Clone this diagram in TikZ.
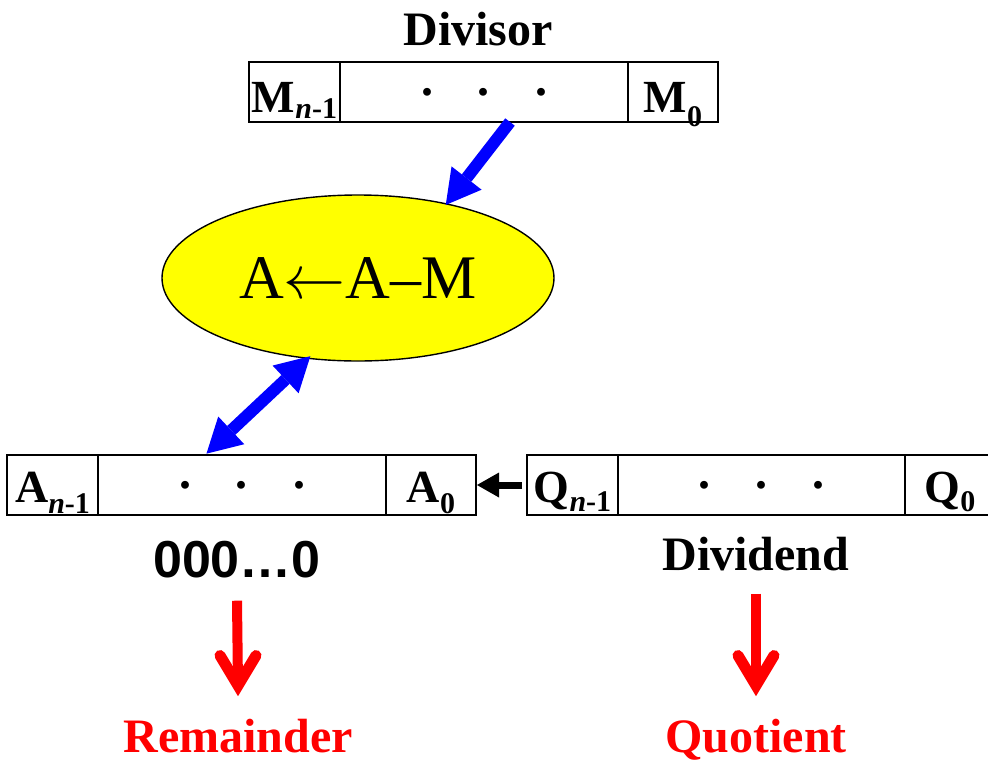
\documentclass[tikz,border=0pt]{standalone}
\usepackage{graphicx}
\usepackage{fontspec}
\setmainfont{Liberation Serif}
\newfontfamily\arialfont{Liberation Sans}
\usetikzlibrary{arrows.meta,shapes.geometric,calc}
\definecolor{bblue}{RGB}{0,0,255}
\definecolor{rred}{RGB}{255,0,0}
\definecolor{yel}{RGB}{255,255,0}
\newcommand\lbl[3]{\textbf{#1}\raisebox{-#3pt}{\fontsize{30}{30}\selectfont\bfseries #2}}
\newcommand\nmo{\textit{n}-1}
\newcommand\bigleftarrow{{\fontsize{10}{10}\selectfont\scalebox{6.2}{$\leftarrow$}}}
\tikzset{
  cell/.style={draw=black, line width=1.6pt, minimum height=60pt, inner sep=0pt, outer sep=0pt, anchor=center},
  lab/.style={font=\fontsize{46}{46}\selectfont\bfseries, anchor=base, inner sep=0pt},
  dotrow/.style={font=\fontsize{48}{48}\selectfont\bfseries},
  title/.style={font=\fontsize{48}{48}\selectfont\bfseries, anchor=base, inner sep=0pt},
  bluearr/.style={draw=bblue, line width=12pt, fill=bblue},
  redshaft/.style={draw=rred, line width=10pt},
  redhead/.style={draw=rred, line width=11pt, line cap=round, line join=miter},
}
\newcommand\dotz{\raisebox{-4pt}{.\hskip 45pt.\hskip 45pt.}}
\begin{document}
\begin{tikzpicture}[x=1pt,y=-1pt]
\useasboundingbox (0,0) rectangle (988,764);
% Divisor register
\node[title] (divisor) at (478,45) {Divisor};
\node[cell, minimum width=91pt] (Mn1) at (294.5,92) {};
\node[cell, minimum width=288pt, dotrow] (Mdots) at (484,92) {\dotz};
\node[cell, minimum width=90pt] (M0) at (673,92) {};
\node[lab] (Mn1l) at ([yshift=10pt]Mn1.south) {\lbl{M}{\nmo}{6}};
\node[lab] (M0l) at ([yshift=10pt]M0.south) {\lbl{M}{0}{14}};
% A register
\node[cell, minimum width=91pt] (An1) at (52.5,485) {};
\node[cell, minimum width=288pt, dotrow] (Adots) at (242,485) {\dotz};
\node[cell, minimum width=90pt] (A0) at (431,485) {};
\node[lab] (An1l) at ([yshift=13pt]An1.south) {\lbl{A}{\nmo}{11}};
\node[lab] (A0l) at ([yshift=13pt]A0.south) {\lbl{A}{0}{11}};
% Q register
\node[cell, minimum width=91pt] (Qn1) at (572.5,485) {};
\node[cell, minimum width=287pt, dotrow] (Qdots) at (761.5,485) {\dotz};
\node[cell, minimum width=90pt] (Q0) at (950,485) {};
\node[lab] (Qn1l) at ([yshift=13pt]Qn1.south) {\lbl{Q}{\nmo}{9}};
\node[lab] (Q0l) at ([yshift=13pt]Q0.south) {\lbl{Q}{0}{9}};
% ALU ellipse
\node[ellipse, draw=black, line width=1.4pt, fill=yel, minimum width=392pt, minimum height=166pt, inner sep=0pt,
      font=\fontsize{62}{62}\selectfont] (ell) at (358,278) {A\bigleftarrow A–M};
% texts
\node[anchor=base, inner sep=0pt, font=\arialfont\fontsize{52}{52}\selectfont\bfseries] (zeros) at (237,577) {000…0};
\node[title] (dividend) at (756,570) {Dividend};
\node[title, text=rred] (rem) at (238,752) {Remainder};
\node[title, text=rred] (quo) at (756,752) {Quotient};
\coordinate (rv1) at ([yshift=33pt]rem.north);
\coordinate (rv2) at ([yshift=33pt]quo.north);
% connectors
\draw[bluearr, -{Triangle[length=34pt,width=38pt,line width=0pt]}, shorten >=-2pt] ([xshift=26pt]Mdots.south) -- (ell.40);
\draw[bluearr, {Triangle[length=34pt,width=38pt,line width=0pt]}-{Triangle[length=34pt,width=38pt,line width=0pt]}, shorten <=2pt, shorten >=-4pt] ([xshift=-37pt]Adots.north) -- (ell.238.5);
\draw[line width=7pt, -{Triangle[length=22pt,width=25pt,line width=0pt]}, shorten <=5pt, shorten >=1pt] (Qn1.west) -- (A0.east);
\draw[redshaft] ([yshift=-23pt]zeros.south) -- (rv1);
\draw[redhead] ([shift={(-18,-30)}]rv1) -- (rv1) -- ([shift={(18,-30)}]rv1);
\draw[redshaft] ([yshift=-23pt]dividend.south) -- (rv2);
\draw[redhead] ([shift={(-18,-30)}]rv2) -- (rv2) -- ([shift={(18,-30)}]rv2);
\end{tikzpicture}
\end{document}
